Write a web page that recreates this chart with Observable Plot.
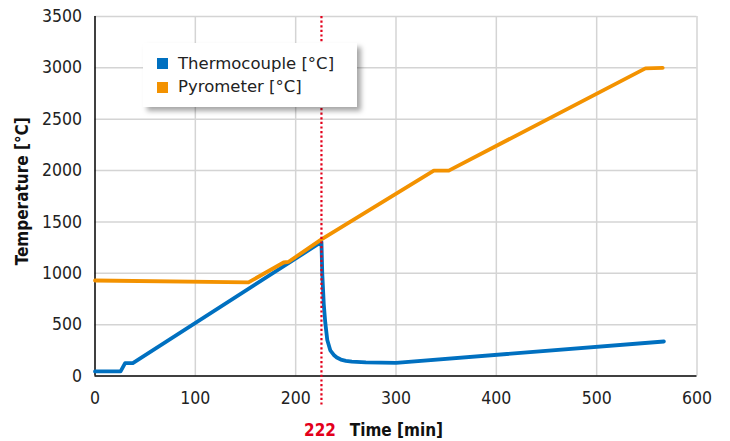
<!DOCTYPE html>
<html>
<head>
<meta charset="utf-8">
<script src="https://cdn.jsdelivr.net/npm/d3@7"></script>
<script src="https://cdn.jsdelivr.net/npm/@observablehq/plot@0.6"></script>
<style>
  body { margin: 0; background: #fff; }
  #wrap { position: relative; width: 730px; height: 441px; }
  #legend {
    position: absolute; left: 143px; top: 43px; width: 214px; height: 64px;
    background: #fff; box-shadow: 4px 4px 5px rgba(0,0,0,0.35);
    font-family: "DejaVu Sans"; font-size: 16.5px; color: #222;
  }
  .item { position: absolute; left: 0; height: 20px; white-space: nowrap; }
  .sw { position: absolute; left: 14px; width: 11px; height: 11px; }
  .lab { position: absolute; left: 35px; line-height: 20px; }
</style>
</head>
<body>
<div id="wrap"></div>
<script>
// ---- data ----
const thermoTime = [0, 25.5, 30, 37.7, 225.7, 226.5, 228, 229.5, 231.5, 234.5, 238, 241, 245, 250, 256, 270, 300, 567];
const thermoTemp = [45, 45, 125, 125, 1305, 1000, 700, 520, 350, 250, 205, 180, 160, 148, 140, 133, 128, 336];
const pyroTime = [0, 153, 188, 193, 225.7, 337.7, 352.6, 548.6, 565.8];
const pyroTemp = [930, 912, 1105, 1112, 1330, 2000, 2000, 2995, 3000];
const seriesNames = ["Thermocouple [°C]", "Pyrometer [°C]"];
const seriesColors = ["#0070c0", "#f39200"];
const xTicks = [0, 100, 200, 300, 400, 500, 600];
const yTicks = [0, 500, 1000, 1500, 2000, 2500, 3000, 3500];
const markerX = 225.7;
const markerLabel = "222";
const xTitle = "Time [min]";
const yTitle = "Temperature [°C]";

const thermo = thermoTime.map((t, i) => ({t, v: thermoTemp[i]}));
const pyro = pyroTime.map((t, i) => ({t, v: pyroTemp[i]}));

const plot = Plot.plot({
  width: 730, height: 441,
  marginLeft: 94.5, marginRight: 33.5, marginTop: 16, marginBottom: 65.5,
  style: { fontFamily: "DejaVu Sans Condensed", fontSize: "17.5px", color: "#222", background: "#fff", overflow: "visible" },
  x: { domain: [0, 600] },
  y: { domain: [0, 3500] },
  marks: [
    Plot.gridX(xTicks.slice(1), { stroke: "#d4d4d4", strokeOpacity: 1, strokeWidth: 1.5 }),
    Plot.gridY(yTicks.slice(1), { stroke: "#d4d4d4", strokeOpacity: 1, strokeWidth: 1.5 }),
    Plot.ruleX([0], { stroke: "#000", strokeWidth: 1.5 }),
    Plot.ruleY([0], { stroke: "#000", strokeWidth: 1.5 }),
    Plot.axisX(xTicks, { tickSize: 0, tickPadding: 16, label: null, tickFormat: "d" }),
    Plot.axisY(yTicks, { tickSize: 0, tickPadding: 13, label: null, tickFormat: "d" }),
    Plot.line(thermo, { x: "t", y: "v", stroke: seriesColors[0], strokeWidth: 3.8, strokeLinejoin: "round" }),
    Plot.line(pyro, { x: "t", y: "v", stroke: seriesColors[1], strokeWidth: 3.8, strokeLinejoin: "round" }),
    Plot.ruleX([markerX], { y1: 3500, y2: -300, stroke: "#e3001b", strokeWidth: 2.2, strokeDasharray: "2.2,2.4", clip: false }),
    Plot.text([markerLabel], { x: () => markerX, text: d => d, frameAnchor: "bottom", lineAnchor: "bottom", dy: 60, dx: -1.5, textAnchor: "middle", fill: "#e3001b", fontWeight: "bold", fontSize: 17 }),
    Plot.text([xTitle], { x: () => markerX, text: d => d, frameAnchor: "bottom", lineAnchor: "bottom", dy: 60, dx: 28.3, textAnchor: "start", fill: "#111", fontWeight: "bold", fontSize: 17 }),
    Plot.text([yTitle], { text: d => d, frameAnchor: "left", textAnchor: "middle", rotate: -90, dx: -72.8, dy: -5, fill: "#111", fontWeight: "bold", fontSize: 17 })
  ]
});

const wrap = document.getElementById("wrap");
wrap.appendChild(plot);

const legend = document.createElement("div");
legend.id = "legend";
seriesNames.forEach((name, i) => {
  const item = document.createElement("div");
  item.className = "item";
  item.style.top = (10.5 + i * 23.4) + "px";
  const sw = document.createElement("div");
  sw.className = "sw";
  sw.style.background = seriesColors[i];
  sw.style.top = "4.8px";
  const lab = document.createElement("div");
  lab.className = "lab";
  lab.textContent = name;
  item.appendChild(sw); item.appendChild(lab);
  legend.appendChild(item);
});
wrap.appendChild(legend);
</script>
</body>
</html>
